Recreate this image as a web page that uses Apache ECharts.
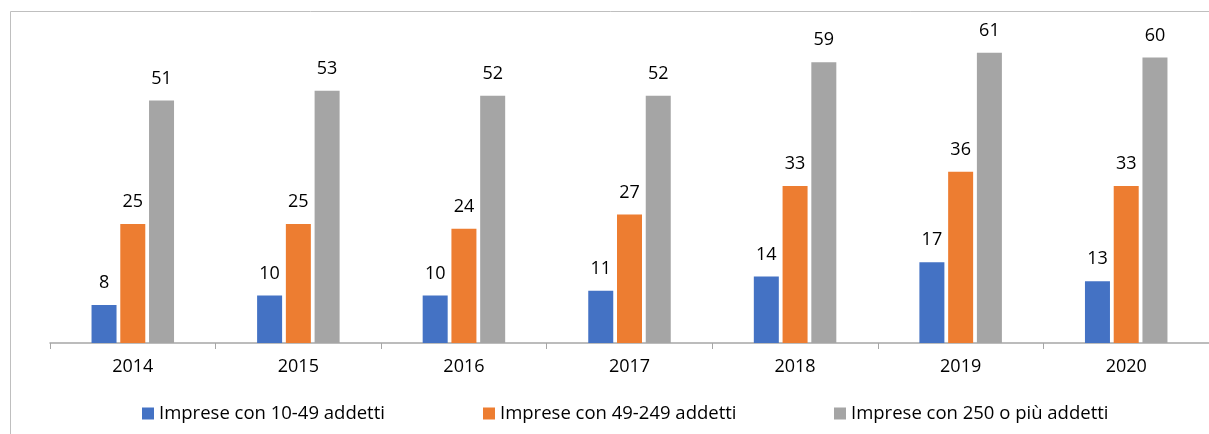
<!DOCTYPE html>
<html>
<head>
<meta charset="utf-8">
<script src="https://cdn.jsdelivr.net/npm/echarts@6/dist/echarts.min.js"></script>
<style>
  html, body { margin: 0; padding: 0; background: #fff; }
  #chart { width: 1209px; height: 434px; }
</style>
</head>
<body>
<div id="chart"></div>
<script>
const years = ["2014", "2015", "2016", "2017", "2018", "2019", "2020"];
const small = [8, 10, 10, 11, 14, 17, 13];
const medium = [25, 25, 24, 27, 33, 36, 33];
const large = [51, 53, 52, 52, 59, 61, 60];
const names = [
  "Imprese con 10-49 addetti",
  "Imprese con 49-249 addetti",
  "Imprese con 250 o più addetti"
];
const colors = ["#4472C4", "#ED7D31", "#A5A5A5"];

const font = "'Open Sans', sans-serif";
let myChart = echarts.init(document.getElementById("chart"));

function makeSeries(name, data, color) {
  return {
    name: name,
    type: "bar",
    data: data,
    barWidth: 25,
    barGap: "15%",
    itemStyle: { color: color },
    label: {
      show: true,
      position: "top",
      distance: 13,
      color: "#000",
      fontSize: 18,
      fontFamily: font
    }
  };
}

function makeLegend(name, left) {
  return {
    data: [name],
    left: left,
    top: 404,
    icon: "rect",
    itemWidth: 12,
    itemHeight: 12,
    itemGap: 5,
    padding: 0,
    textStyle: { color: "#000", fontSize: 18.5, fontFamily: font }
  };
}

let options = {
  animation: false,
  textStyle: { fontFamily: font },
  graphic: [
    {
      type: "rect",
      shape: { x: 10.5, y: 11.5, width: 1300, height: 500 },
      style: { fill: "none", stroke: "#BFBFBF", lineWidth: 1 },
      silent: true
    }
  ],
  legend: [
    makeLegend(names[0], 142),
    makeLegend(names[1], 483),
    makeLegend(names[2], 834)
  ],
  grid: { left: 50, top: 10, width: 1160, height: 333 },
  xAxis: {
    type: "category",
    data: years,
    axisLine: { lineStyle: { color: "#A6A6A6", width: 1.5 } },
    axisTick: { show: true, length: 6, lineStyle: { color: "#A6A6A6" } },
    axisLabel: { color: "#000", fontSize: 18, fontFamily: font, margin: 15 }
  },
  yAxis: {
    type: "value",
    min: 0,
    max: 70,
    show: false,
    splitLine: { show: false }
  },
  series: [
    makeSeries(names[0], small, colors[0]),
    makeSeries(names[1], medium, colors[1]),
    makeSeries(names[2], large, colors[2])
  ]
};
myChart.setOption(options);
</script>
</body>
</html>
